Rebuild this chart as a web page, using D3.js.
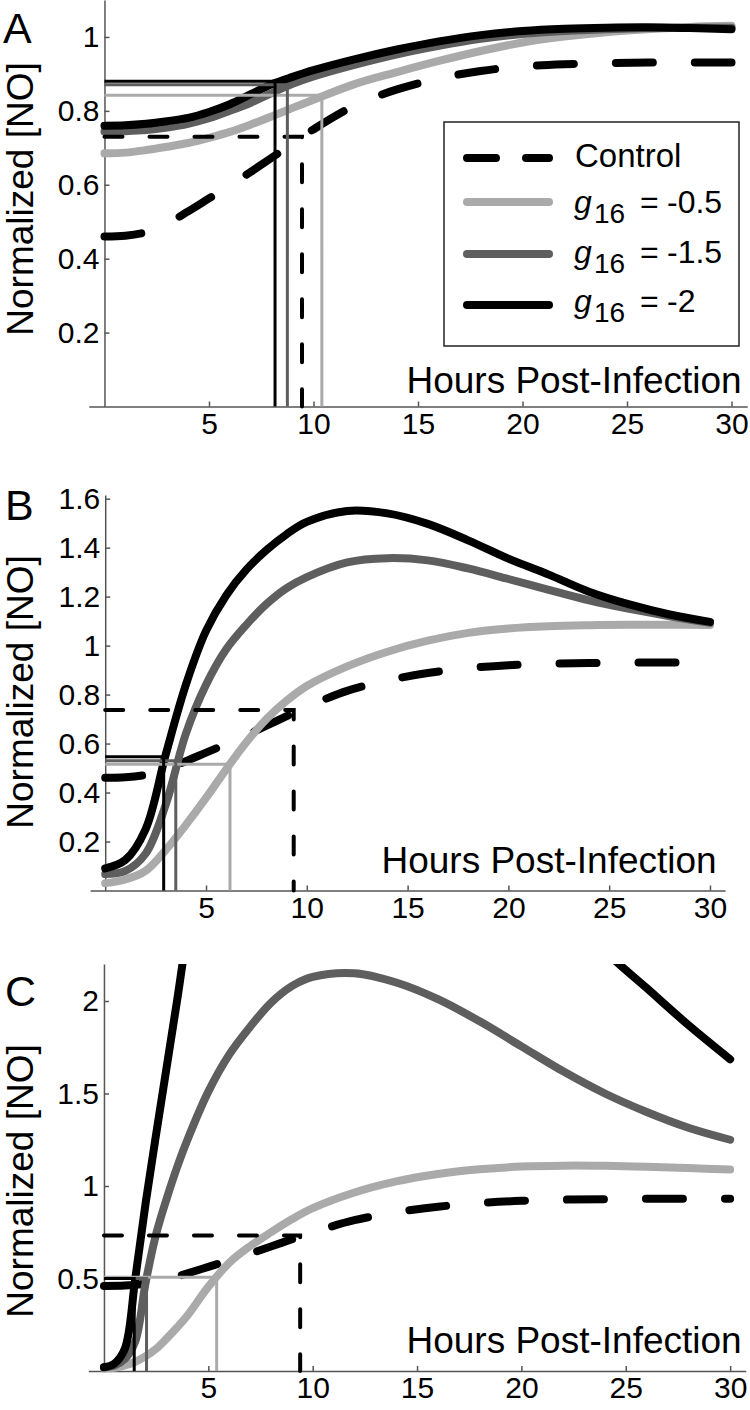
<!DOCTYPE html>
<html>
<head>
<meta charset="utf-8">
<script src="https://cdn.jsdelivr.net/npm/d3@7"></script>
<style>
  body { margin: 0; background: #fff; }
</style>
</head>
<body>
<svg id="chart"></svg>
<script>
// ---- data ----

// time grid (hours post-infection) for control and panels A, B
const hours = [0, 1, 2, 3, 4, 5, 6, 7, 8, 9, 10, 12, 14, 16, 18, 20, 22, 24, 26, 28, 30];
// finer grid for panel C (steep early rise)
const hoursC = [0, 0.5, 1, 1.5, 2, 2.5, 3, 3.5, 4, 5, 6, 7, 8, 9, 10, 12, 14, 16, 18, 20, 22, 24, 26, 28, 30];

const xTicks = [5, 10, 15, 20, 25, 30];
const yTicksA = [0.2, 0.4, 0.6, 0.8, 1];
const yTicksB = [0.2, 0.4, 0.6, 0.8, 1, 1.2, 1.4, 1.6];
const yTicksC = [0.5, 1, 1.5, 2];

const seriesNames = ["Control", "-0.5", "-1.5", "-2"];

// control is the same curve in every panel
const control = [0.46, 0.462, 0.472, 0.495, 0.528, 0.563, 0.598, 0.635, 0.673, 0.712, 0.75,
  0.815, 0.858, 0.888, 0.908, 0.92, 0.926, 0.929, 0.931, 0.931, 0.931];

// panel A
const aLight = [0.685, 0.687, 0.694, 0.703, 0.713, 0.727, 0.743, 0.763, 0.785, 0.808, 0.83,
  0.873, 0.905, 0.935, 0.962, 0.985, 1.001, 1.013, 1.021, 1.027, 1.03];
const aMid = [0.744, 0.745, 0.748, 0.755, 0.765, 0.78, 0.8, 0.822, 0.848, 0.873, 0.893,
  0.925, 0.953, 0.976, 0.995, 1.008, 1.016, 1.021, 1.024, 1.025, 1.025];
const aBlack = [0.76, 0.761, 0.765, 0.772, 0.781, 0.797, 0.818, 0.845, 0.872, 0.892, 0.91,
  0.94, 0.966, 0.988, 1.005, 1.016, 1.022, 1.025, 1.026, 1.024, 1.021];

// panel B
const bLight = [0.03, 0.045, 0.08, 0.165, 0.268, 0.378, 0.495, 0.605, 0.7, 0.775, 0.835,
  0.915, 0.975, 1.02, 1.052, 1.07, 1.079, 1.083, 1.085, 1.085, 1.084];
const bMid = [0.067, 0.08, 0.15, 0.35, 0.64, 0.84, 0.985, 1.085, 1.17, 1.235, 1.28,
  1.34, 1.357, 1.348, 1.315, 1.272, 1.228, 1.185, 1.15, 1.12, 1.093];
const bBlack = [0.09, 0.125, 0.25, 0.555, 0.84, 1.06, 1.205, 1.31, 1.39, 1.455, 1.505,
  1.55, 1.54, 1.497, 1.43, 1.355, 1.29, 1.22, 1.168, 1.127, 1.097];

// panel C (black runs off the top of the axes in the middle)
const cLight = [0.015, 0.018, 0.03, 0.05, 0.08, 0.12, 0.175, 0.235, 0.3, 0.455, 0.585, 0.675, 0.75,
  0.82, 0.88, 0.965, 1.025, 1.065, 1.09, 1.105, 1.11, 1.109, 1.104, 1.097, 1.089];
const cMid = [0.02, 0.03, 0.065, 0.16, 0.48, 0.74, 0.93, 1.1, 1.25, 1.51, 1.71, 1.86, 1.99,
  2.08, 2.13, 2.15, 2.1, 2.01, 1.89, 1.755, 1.62, 1.5, 1.4, 1.315, 1.25];
const cBlack = [0.02, 0.04, 0.12, 0.5, 0.91, 1.28, 1.64, 2.0, 2.37, 2.95, 3.35, 3.65, 3.9,
  4.05, 4.1, 4.05, 3.85, 3.55, 3.2, 2.85, 2.52, 2.27, 2.07, 1.87, 1.685];

// half-way markers: [control, -0.5, -1.5, -2]
const guideHoursA = [9.45, 10.4, 8.75, 8.16];
const guideLevelsA = [0.73, 0.842, 0.871, 0.88];
const guideHoursB = [9.35, 6.19, 3.5, 2.9];
const guideLevelsB = [0.737, 0.516, 0.53, 0.546];
const guideHoursC = [9.4, 5.4, 2.04, 1.45];
const guideLevelsC = [0.733, 0.507, 0.5, 0.5];

// ---- drawing ----

const width = 750, height = 1410;
const font = "'Liberation Sans', Arial, Helvetica, sans-serif";
const colors = ["#000000", "#aaaaaa", "#5e5e5e", "#000000"];
const curveDash = "37 42";
const guideDash = "18 27";

const svg = d3.select("#chart")
  .attr("width", width)
  .attr("height", height)
  .style("background", "#fff");

const panels = [
  { letter: "A", letterPos: [3, 43], xRange: [88.8, 747.2], yDomain: [0, 1.1], yRange: [406.5, 0],
    yTicks: yTicksA, labelY: 199, xLabel: [741.7, 393],
    series: [[hours, control], [hours, aLight], [hours, aMid], [hours, aBlack]],
    guideHours: guideHoursA, guideLevels: guideLevelsA },
  { letter: "B", letterPos: [5, 520], xRange: [90.1, 725.1], yDomain: [0, 1.615], yRange: [890.5, 495],
    yTicks: yTicksB, labelY: 692, xLabel: [716.7, 873],
    series: [[hours, control], [hours, bLight], [hours, bMid], [hours, bBlack]],
    guideHours: guideHoursB, guideLevels: guideLevelsB },
  { letter: "C", letterPos: [5, 1006], xRange: [88.3, 745.8], yDomain: [0, 2.2], yRange: [1371, 964],
    yTicks: yTicksC, labelY: 1181, xLabel: [741.7, 1353],
    series: [[hours, control], [hoursC, cLight], [hoursC, cMid], [hoursC, cBlack]],
    guideHours: guideHoursC, guideLevels: guideLevelsC }
];

panels.forEach((p, i) => drawPanel(p, i));
drawLegend();

function drawPanel(p, i) {
  const x = d3.scaleLinear().domain([-0.75, 30.75]).range(p.xRange);
  const y = d3.scaleLinear().domain(p.yDomain).range(p.yRange);
  const g = svg.append("g");

  const clipId = "clip" + i;
  svg.append("clipPath").attr("id", clipId)
    .append("rect")
    .attr("x", p.xRange[0])
    .attr("y", p.yRange[1])
    .attr("width", p.xRange[1] - p.xRange[0])
    .attr("height", p.yRange[0] - p.yRange[1] + 10);

  // axes (ticks point inward, matlab style)
  const xAxis = d3.axisBottom(x).tickValues(xTicks).tickSize(-5).tickSizeOuter(0)
    .tickPadding(6).tickFormat(d3.format("d"));
  const yAxis = d3.axisLeft(y).tickValues(p.yTicks).tickSize(-5).tickSizeOuter(0)
    .tickPadding(5).tickFormat(d => String(d));

  g.append("g").attr("transform", "translate(0," + y(0) + ")").call(xAxis);
  g.append("g").attr("transform", "translate(" + x(0) + ",0)").call(yAxis);

  g.selectAll(".domain, .tick line").attr("stroke", "#555").attr("stroke-width", 1.5);
  g.selectAll(".tick text")
    .attr("font-size", 30)
    .attr("font-family", font)
    .attr("fill", "#000");

  // curves
  const line = d3.line()
    .x(d => x(d[0]))
    .y(d => y(d[1]))
    .curve(d3.curveCatmullRom.alpha(0.5));

  const plot = g.append("g").attr("clip-path", "url(#" + clipId + ")");

  p.series.forEach((s, k) => {
    const pts = s[0].map((t, j) => [t, s[1][j]]);
    plot.append("path")
      .attr("d", line(pts))
      .attr("fill", "none")
      .attr("stroke", colors[k])
      .attr("stroke-width", 8)
      .attr("stroke-linecap", "round")
      .attr("stroke-linejoin", "round")
      .attr("stroke-dasharray", k === 0 ? curveDash : null);
  });

  // guide lines from the y axis to the curve, then down to the x axis
  p.guideHours.forEach((t, k) => {
    const v = p.guideLevels[k];
    const pts = [[0, v], [t, v], [t, 0]];
    plot.append("path")
      .attr("d", d3.line().x(d => x(d[0])).y(d => y(d[1]))(pts))
      .attr("fill", "none")
      .attr("stroke", colors[k])
      .attr("stroke-width", k === 0 ? 4 : 3)
      .attr("stroke-linecap", k === 0 ? "round" : "butt")
      .attr("stroke-dasharray", k === 0 ? guideDash : null);
  });

  // labels
  g.append("text")
    .attr("x", p.letterPos[0]).attr("y", p.letterPos[1])
    .attr("font-family", font).attr("font-size", 43)
    .text(p.letter);

  g.append("text")
    .attr("transform", "translate(33," + p.labelY + ") rotate(-90)")
    .attr("text-anchor", "middle")
    .attr("font-family", font).attr("font-size", 37)
    .text("Normalized [NO]");

  g.append("text")
    .attr("x", p.xLabel[0]).attr("y", p.xLabel[1])
    .attr("text-anchor", "end")
    .attr("font-family", font).attr("font-size", 37)
    .text("Hours Post-Infection");
}

function drawLegend() {
  const lg = svg.append("g");
  lg.append("rect")
    .attr("x", 444).attr("y", 122)
    .attr("width", 295).attr("height", 224)
    .attr("fill", "#fff")
    .attr("stroke", "#222")
    .attr("stroke-width", 1.5);

  const rowY = [158, 202, 254, 305];
  const baseY = [167, 213, 263, 312];

  seriesNames.forEach((name, k) => {
    lg.append("line")
      .attr("x1", 467).attr("x2", 549)
      .attr("y1", rowY[k]).attr("y2", rowY[k])
      .attr("stroke", colors[k])
      .attr("stroke-width", 8)
      .attr("stroke-linecap", "round")
      .attr("stroke-dasharray", k === 0 ? "29 30" : null);

    if (k === 0) {
      lg.append("text")
        .attr("x", 575).attr("y", baseY[k])
        .attr("font-family", font).attr("font-size", 33)
        .text(name);
    } else {
      const t = lg.append("text")
        .attr("y", baseY[k])
        .attr("font-family", font).attr("font-size", 32);
      t.append("tspan").attr("x", 574).attr("font-style", "italic").text("g");
      t.append("tspan").attr("x", 594).attr("y", baseY[k] + 10).attr("font-size", 28).text("16");
      t.append("tspan").attr("x", 640).attr("y", baseY[k]).text("=");
      t.append("tspan").attr("x", 667).text(name);
    }
  });
}
</script>
</body>
</html>
